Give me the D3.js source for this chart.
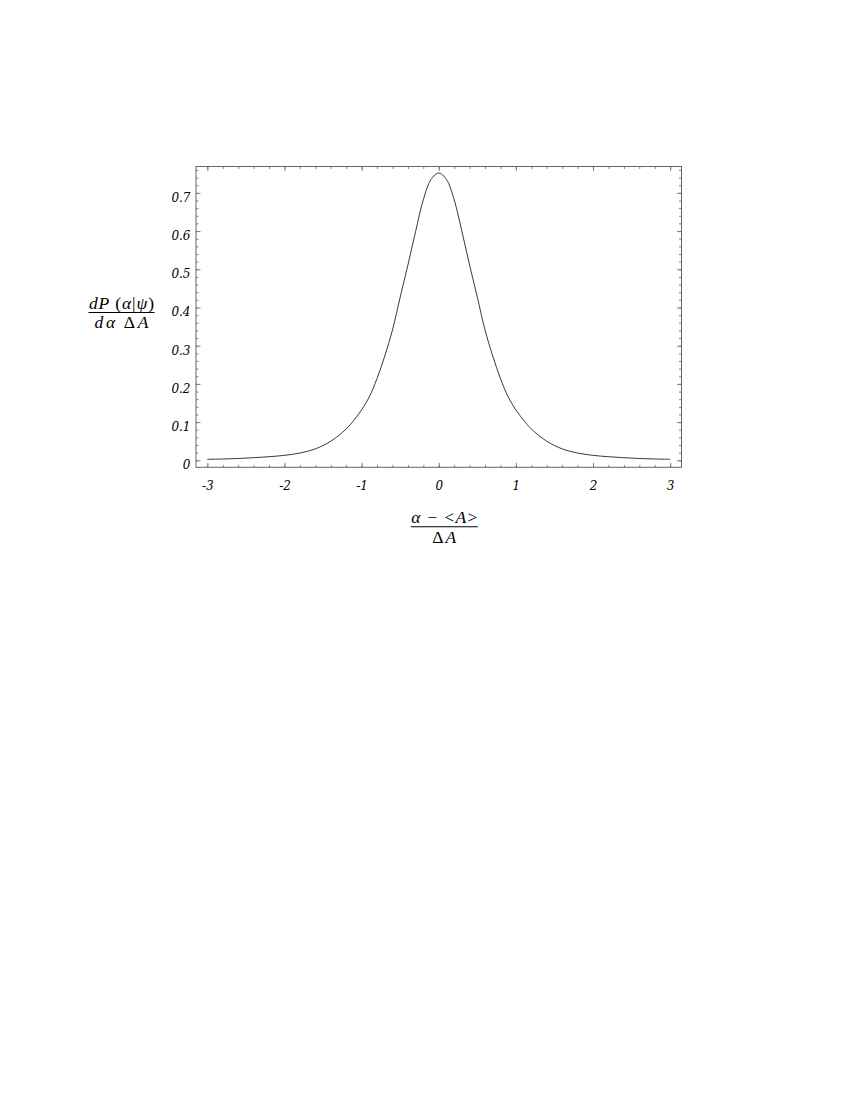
<!DOCTYPE html>
<html>
<head>
<meta charset="utf-8">
<script src="https://cdn.jsdelivr.net/npm/d3@7"></script>
<style>
  html, body { margin: 0; padding: 0; background: #fff; }
  svg { display: block; }
</style>
</head>
<body>
<script>
// ---- data ----
const xValues = [-3.0, -2.8, -2.6, -2.4, -2.2, -2.0, -1.8, -1.6, -1.4, -1.2, -1.1, -1.0, -0.9, -0.8, -0.7, -0.6, -0.5, -0.4, -0.3, -0.2, -0.1, 0.0,
                 0.1, 0.2, 0.3, 0.4, 0.5, 0.6, 0.7, 0.8, 0.9, 1.0, 1.1, 1.2, 1.4, 1.6, 1.8, 2.0, 2.2, 2.4, 2.6, 2.8, 3.0];
const densityValues = [0.0026, 0.0034, 0.0048, 0.0068, 0.0094, 0.013, 0.019, 0.030, 0.050, 0.082, 0.105, 0.132, 0.166, 0.214, 0.273, 0.341, 0.427, 0.511, 0.599, 0.682, 0.735, 0.752,
                       0.735, 0.682, 0.599, 0.511, 0.427, 0.341, 0.273, 0.214, 0.166, 0.132, 0.105, 0.082, 0.050, 0.030, 0.019, 0.013, 0.0094, 0.0068, 0.0048, 0.0034, 0.0026];
const xMajorTicks = [-3, -2, -1, 0, 1, 2, 3];
const xTickLabels = ["-3", "-2", "-1", "0", "1", "2", "3"];
const yMajorTicks = [0, 0.1, 0.2, 0.3, 0.4, 0.5, 0.6, 0.7];
const yTickLabels = ["0", "0.1", "0.2", "0.3", "0.4", "0.5", "0.6", "0.7"];
const xMinorTicks = d3.range(-15, 16).map(i => i / 5);
const yMinorTicks = d3.range(0, 39).map(i => i / 50);
const xDomain = [-3.147, 3.147];
const yDomain = [-0.0183, 0.769];

// ---- layout ----
const W = 850, H = 1100;
const plotL = 196, plotR = 681.5, plotT = 166.5, plotB = 467.3;

const svg = d3.select("body").append("svg")
  .attr("width", W).attr("height", H)
  .style("background", "#fff");

const x = d3.scaleLinear().domain(xDomain).range([plotL, plotR]);
const y = d3.scaleLinear().domain(yDomain).range([plotB, plotT]);

const frameColor = "#666";
const tickFont = "DejaVu Serif, serif";

function styleAxis(g) {
  g.select(".domain").remove();
  g.selectAll(".tick line").attr("stroke", frameColor).attr("stroke-width", 0.8);
}

// minor ticks (inward) on all four sides
svg.append("g").attr("transform", `translate(0,${plotB})`)
  .call(d3.axisBottom(x).tickValues(xMinorTicks).tickSize(-2.5).tickFormat(""))
  .call(styleAxis);
svg.append("g").attr("transform", `translate(0,${plotT})`)
  .call(d3.axisTop(x).tickValues(xMinorTicks).tickSize(-2.5).tickFormat(""))
  .call(styleAxis);
svg.append("g").attr("transform", `translate(${plotL},0)`)
  .call(d3.axisLeft(y).tickValues(yMinorTicks).tickSize(-2.5).tickFormat(""))
  .call(styleAxis);
svg.append("g").attr("transform", `translate(${plotR},0)`)
  .call(d3.axisRight(y).tickValues(yMinorTicks).tickSize(-2.5).tickFormat(""))
  .call(styleAxis);

// major ticks
svg.append("g").attr("transform", `translate(0,${plotB})`)
  .call(d3.axisBottom(x).tickValues(xMajorTicks).tickSize(-4.5).tickPadding(0)
        .tickFormat((d, i) => xTickLabels[i]))
  .call(styleAxis)
  .call(g => g.selectAll(".tick text")
    .attr("y", 22.5).attr("dy", 0)
    .attr("font-family", tickFont).attr("font-style", "italic")
    .attr("font-size", 12).attr("fill", "#000"));
svg.append("g").attr("transform", `translate(0,${plotT})`)
  .call(d3.axisTop(x).tickValues(xMajorTicks).tickSize(-4.5).tickFormat(""))
  .call(styleAxis);
svg.append("g").attr("transform", `translate(${plotL},0)`)
  .call(d3.axisLeft(y).tickValues(yMajorTicks).tickSize(-4.5).tickPadding(0)
        .tickFormat((d, i) => yTickLabels[i]))
  .call(styleAxis)
  .call(g => g.selectAll(".tick text")
    .attr("x", -5.5).attr("dy", 0).attr("y", 8.3)
    .attr("font-family", tickFont).attr("font-style", "italic")
    .attr("font-size", 12).attr("fill", "#000"));
svg.append("g").attr("transform", `translate(${plotR},0)`)
  .call(d3.axisRight(y).tickValues(yMajorTicks).tickSize(-4.5).tickFormat(""))
  .call(styleAxis);

// frame
svg.append("rect")
  .attr("x", plotL).attr("y", plotT)
  .attr("width", plotR - plotL).attr("height", plotB - plotT)
  .attr("fill", "none").attr("stroke", frameColor).attr("stroke-width", 1);

// curve
const pts = xValues.map((v, i) => [v, densityValues[i]]);
const line = d3.line().x(d => x(d[0])).y(d => y(d[1])).curve(d3.curveCatmullRom.alpha(0.5));
svg.append("path")
  .attr("d", line(pts))
  .attr("fill", "none").attr("stroke", "#222").attr("stroke-width", 0.9);

// ---- axis labels (fractions) ----
const labelFont = "Liberation Serif, Times New Roman, serif";

function fraction(cx, lineY, numParts, denParts, numW, denW, lineW, numOff, denOff) {
  const g = svg.append("g").attr("font-family", labelFont).attr("font-size", 17.5).attr("fill", "#000");
  const num = g.append("text").attr("x", cx - numW / 2).attr("y", lineY - numOff)
    .attr("textLength", numW).attr("lengthAdjust", "spacing");
  numParts.forEach(p => num.append("tspan").attr("font-style", p[1] ? "italic" : "normal").text(p[0]));
  g.append("line").attr("x1", cx - lineW / 2).attr("x2", cx + lineW / 2)
    .attr("y1", lineY).attr("y2", lineY).attr("stroke", "#000").attr("stroke-width", 1.1);
  const den = g.append("text").attr("x", cx - denW / 2).attr("y", lineY + denOff)
    .attr("textLength", denW).attr("lengthAdjust", "spacing");
  denParts.forEach(p => den.append("tspan").attr("font-style", p[1] ? "italic" : "normal").text(p[0]));
}

// y label: dP (α|ψ) / dα ΔA
fraction(121.5, 312.5,
  [["dP", true], [" (", false], ["α", true], ["|", false], ["ψ", true], [")", false]],
  [["d", true], ["α", true], [" Δ", false], ["A", true]],
  65, 54, 66, 4, 15.5);

// x label: α − <A> / ΔA
fraction(444.3, 526.7,
  [["α", true], [" − <", false], ["A", true], [">", false]],
  [["Δ", false], ["A", true]],
  66, 24, 67, 4, 16);
</script>
</body>
</html>
